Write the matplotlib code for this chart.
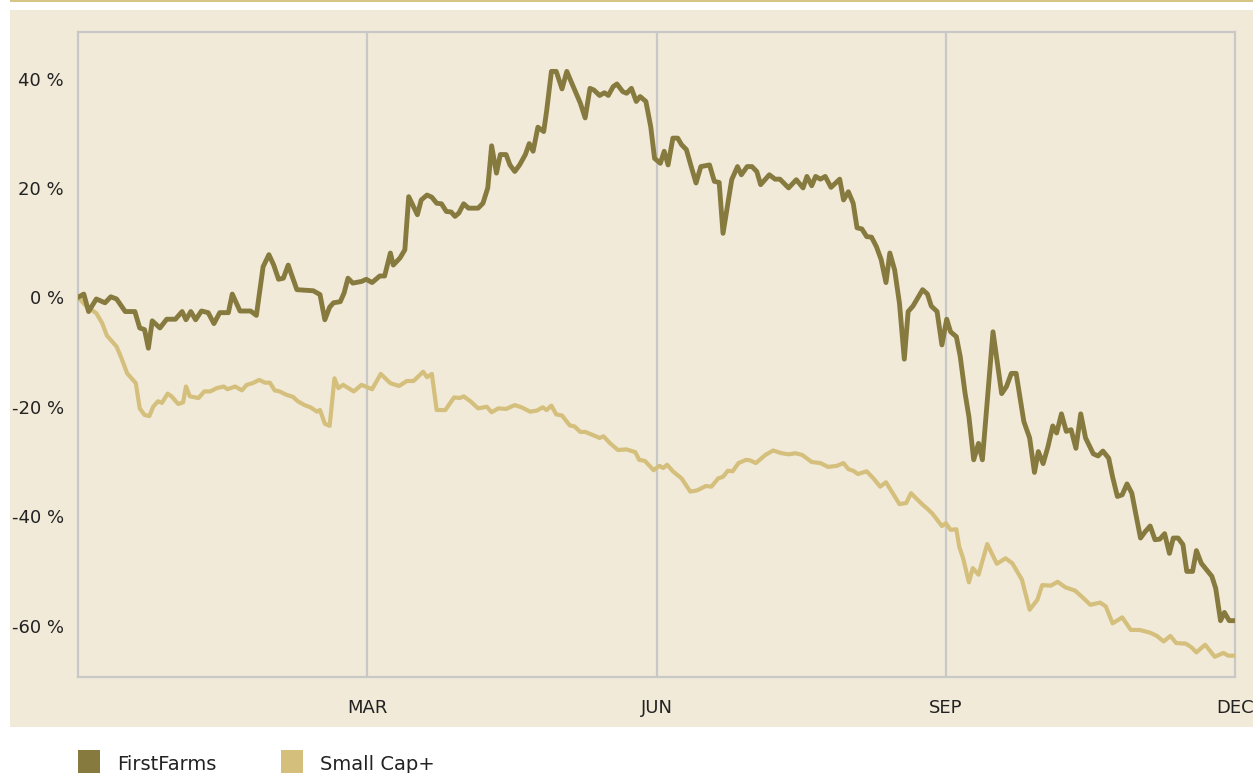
import matplotlib
matplotlib.use("Agg")
import matplotlib.pyplot as plt
from matplotlib.patches import Rectangle

# --- data: months since start of year (0 = Dec prev year), return in %
ff_month = [0.00, 0.06, 0.11, 0.19, 0.28, 0.34, 0.40, 0.49, 0.59, 0.64, 0.69, 0.73, 0.77, 0.85, 0.92,
            1.01, 1.08, 1.12, 1.17, 1.22, 1.28, 1.35, 1.41, 1.47, 1.56, 1.60, 1.68, 1.79, 1.85, 1.92,
            1.98, 2.03, 2.08, 2.13, 2.18, 2.27, 2.44, 2.51, 2.56, 2.61, 2.65, 2.72, 2.76, 2.80, 2.85,
            2.94, 2.99, 3.05, 3.13, 3.18, 3.24, 3.27, 3.34, 3.39, 3.43, 3.52, 3.56, 3.62, 3.67, 3.72,
            3.77, 3.82, 3.87, 3.91, 3.95, 4.00, 4.05, 4.15, 4.20, 4.25, 4.29, 4.34, 4.38, 4.44, 4.48,
            4.53, 4.58, 4.64, 4.68, 4.72, 4.77, 4.83, 4.86, 4.91, 4.96, 5.02, 5.07, 5.12, 5.21, 5.26,
            5.31, 5.35, 5.41, 5.46, 5.50, 5.55, 5.59, 5.65, 5.69, 5.74, 5.79, 5.83, 5.89, 5.94, 5.98,
            6.04, 6.08, 6.12, 6.17, 6.22, 6.26, 6.31, 6.36, 6.41, 6.46, 6.55, 6.60, 6.65, 6.69, 6.78,
            6.84, 6.88, 6.94, 6.99, 7.04, 7.08, 7.17, 7.23, 7.28, 7.37, 7.45, 7.52, 7.56, 7.61, 7.65,
            7.70, 7.75, 7.81, 7.90, 7.94, 7.99, 8.04, 8.08, 8.13, 8.18, 8.23, 8.28, 8.33, 8.38, 8.42,
            8.47, 8.52, 8.57, 8.61, 8.66, 8.76, 8.81, 8.85, 8.91, 8.96, 9.01, 9.05, 9.11, 9.15, 9.20,
            9.24, 9.29, 9.34, 9.38, 9.42, 9.49, 9.58, 9.63, 9.68, 9.73, 9.81, 9.87, 9.92, 9.96, 10.01,
            10.06, 10.11, 10.15, 10.20, 10.25, 10.30, 10.35, 10.40, 10.45, 10.53, 10.58, 10.63, 10.69,
            10.73, 10.78, 10.83, 10.88, 10.93, 10.97, 11.02, 11.07, 11.12, 11.17, 11.22, 11.27, 11.32,
            11.36, 11.41, 11.46, 11.50, 11.56, 11.60, 11.65, 11.71, 11.76, 11.80, 11.85, 11.89, 11.94,
            11.99]
ff_pct = [0.0, 0.6, -2.6, -0.3, -1.0, 0.1, -0.3, -2.6, -2.6, -5.6, -5.9, -9.3, -4.3, -5.6, -4.0,
          -4.0, -2.6, -4.1, -2.6, -4.1, -2.5, -2.8, -4.8, -2.8, -2.8, 0.6, -2.5, -2.5, -3.3, 5.6,
          7.8, 5.9, 3.3, 3.5, 5.9, 1.4, 1.2, 0.5, -4.1, -1.8, -1.0, -0.8, 0.8, 3.5, 2.6,
          2.9, 3.3, 2.7, 3.9, 3.9, 8.1, 5.9, 7.2, 8.7, 18.4, 15.1, 17.8, 18.7, 18.3, 17.2,
          17.1, 15.7, 15.6, 14.8, 15.4, 17.1, 16.3, 16.3, 17.2, 20.0, 27.7, 22.7, 26.1, 26.1, 24.2,
          23.0, 24.2, 26.1, 28.1, 26.7, 31.1, 30.3, 34.0, 41.3, 41.3, 38.1, 41.3, 39.2, 35.5, 32.8,
          38.2, 37.9, 36.9, 37.4, 36.9, 38.5, 39.0, 37.6, 37.3, 38.2, 35.8, 36.7, 35.8, 31.2, 25.4,
          24.5, 26.7, 24.2, 29.1, 29.1, 27.9, 27.0, 23.9, 20.9, 23.9, 24.2, 21.2, 21.0, 11.7, 21.5,
          23.9, 22.4, 23.9, 23.9, 23.0, 20.6, 22.4, 21.6, 21.6, 20.0, 21.5, 20.0, 22.1, 20.4, 22.1,
          21.6, 22.1, 20.1, 21.6, 17.8, 19.3, 17.2, 12.7, 12.5, 11.1, 11.0, 9.3, 6.9, 2.7, 8.1,
          5.0, -1.1, -11.3, -2.6, -1.6, 1.4, 0.6, -1.6, -2.6, -8.7, -4.0, -6.3, -7.2, -10.8, -17.5,
          -21.8, -29.7, -26.7, -29.7, -21.2, -6.3, -17.6, -16.3, -13.9, -13.9, -22.7, -25.7, -32.0, -28.2, -30.4,
          -27.3, -23.5, -24.8, -21.3, -24.5, -24.2, -27.6, -21.3, -25.7, -28.6, -29.0, -28.1, -29.4,
          -32.8, -36.4, -36.1, -34.1, -35.8, -39.5, -44.0, -42.8, -41.8, -44.3, -44.2, -43.2, -46.8,
          -44.0, -44.0, -45.2, -50.1, -50.1, -46.3, -48.6, -49.9, -51.0, -53.2, -59.1, -57.6, -59.1,
          -59.1]

sc_month = [0.00, 0.09, 0.19, 0.25, 0.30, 0.40, 0.45, 0.51, 0.60, 0.64, 0.69, 0.74, 0.78, 0.83, 0.87,
            0.93, 0.97, 1.04, 1.09, 1.12, 1.16, 1.25, 1.31, 1.37, 1.44, 1.51, 1.55, 1.63, 1.70, 1.75,
            1.81, 1.88, 1.94, 1.99, 2.04, 2.09, 2.16, 2.23, 2.28, 2.35, 2.41, 2.48, 2.51, 2.56, 2.61,
            2.66, 2.70, 2.75, 2.86, 2.94, 3.05, 3.14, 3.24, 3.33, 3.41, 3.48, 3.58, 3.62, 3.67, 3.72,
            3.81, 3.90, 3.96, 4.00, 4.07, 4.15, 4.24, 4.29, 4.36, 4.44, 4.53, 4.60, 4.69, 4.76, 4.82,
            4.86, 4.91, 4.96, 5.02, 5.10, 5.15, 5.21, 5.26, 5.33, 5.41, 5.45, 5.52, 5.60, 5.69, 5.78,
            5.82, 5.88, 5.97, 6.03, 6.07, 6.11, 6.17, 6.26, 6.35, 6.42, 6.51, 6.57, 6.64, 6.69, 6.74,
            6.79, 6.85, 6.93, 6.97, 7.03, 7.13, 7.21, 7.30, 7.37, 7.44, 7.51, 7.61, 7.70, 7.78, 7.87,
            7.94, 7.99, 8.04, 8.09, 8.18, 8.25, 8.32, 8.38, 8.46, 8.52, 8.59, 8.64, 8.69, 8.76, 8.80,
            8.86, 8.96, 9.00, 9.05, 9.11, 9.14, 9.18, 9.24, 9.28, 9.34, 9.43, 9.53, 9.62, 9.69, 9.79,
            9.87, 9.95, 10.00, 10.09, 10.16, 10.24, 10.34, 10.41, 10.50, 10.60, 10.66, 10.73, 10.83,
            10.92, 11.01, 11.12, 11.19, 11.26, 11.33, 11.39, 11.49, 11.55, 11.60, 11.69, 11.79, 11.88,
            11.93, 11.99]
sc_pct = [0.0, -1.7, -2.9, -4.7, -7.0, -9.0, -11.1, -13.9, -15.7, -20.3, -21.5, -21.7, -20.0, -19.0, -19.3,
          -17.6, -18.1, -19.5, -19.2, -16.3, -18.1, -18.4, -17.2, -17.2, -16.6, -16.3, -16.8, -16.3, -17.0, -16.0,
          -15.7, -15.1, -15.6, -15.6, -17.0, -17.2, -17.8, -18.2, -19.0, -19.7, -20.1, -20.9, -20.6, -23.1, -23.5,
          -14.8, -16.6, -16.0, -17.2, -16.0, -16.8, -14.0, -15.7, -16.2, -15.3, -15.3, -13.6, -14.6, -14.0, -20.6,
          -20.6, -18.3, -18.4, -18.1, -19.0, -20.3, -20.0, -21.0, -20.3, -20.4, -19.7, -20.1, -20.9, -20.7, -20.1,
          -20.6, -19.8, -21.4, -21.6, -23.4, -23.6, -24.6, -24.6, -25.1, -25.7, -25.4, -26.7, -27.9, -27.8, -28.3,
          -29.7, -29.9, -31.6, -30.8, -31.2, -30.6, -31.8, -33.1, -35.5, -35.3, -34.5, -34.6, -33.1, -32.8, -31.7,
          -31.8, -30.3, -29.7, -29.8, -30.3, -28.8, -28.0, -28.5, -28.7, -28.5, -28.8, -30.1, -30.3, -31.0, -30.8,
          -30.3, -31.4, -31.7, -32.3, -31.8, -33.1, -34.6, -33.8, -36.1, -37.8, -37.6, -35.8, -36.7, -37.9, -38.5,
          -39.5, -41.8, -41.3, -42.5, -42.4, -45.6, -47.7, -52.1, -49.5, -50.7, -45.1, -48.7, -47.7, -48.6, -51.6,
          -57.1, -55.3, -52.6, -52.7, -52.0, -53.0, -53.6, -54.7, -56.2, -55.8, -56.5, -59.6, -58.5,
          -60.8, -60.8, -61.3, -61.9, -62.9, -61.9, -63.2, -63.3, -64.0, -64.9, -63.5, -65.7, -65.0,
          -65.5, -65.5]

x_ticks = [3, 6, 9, 12]
x_labels = ["MAR", "JUN", "SEP", "DEC"]
y_ticks = [-60, -40, -20, 0, 20, 40]
y_labels = ["-60 %", "-40 %", "-20 %", "0 %", "20 %", "40 %"]
series_names = ["FirstFarms", "Small Cap+"]

DARK = "#877a3f"; LIGHT = "#d4bf7c"; BEIGE = "#f1ead8"; GRID = "#c8c8c8"; TXT = "#222222"
plt.rcParams["font.family"] = ["DejaVu Sans"]

W, H = 1253, 773
fig = plt.figure(figsize=(W / 100, H / 100), dpi=100, facecolor="white")
# beige panel + thin gold rule on top
fig.add_artist(Rectangle((10 / W, (H - 727) / H), 1 - 10 / W, 717 / H, transform=fig.transFigure,
                         fc=BEIGE, ec="none", zorder=0))
fig.add_artist(Rectangle((10 / W, 1 - 2 / H), 1 - 10 / W, 2 / H, transform=fig.transFigure,
                         fc="#d8c486", ec="none", zorder=0))

ax = fig.add_axes([78 / W, (H - 677) / H, 1157 / W, 645 / H])
ax.set_facecolor(BEIGE)
ax.plot(sc_month, sc_pct, color=LIGHT, lw=3.0, solid_joinstyle="round", zorder=3)
ax.plot(ff_month, ff_pct, color=DARK, lw=3.5, solid_joinstyle="round", zorder=4)
ax.set_xlim(0, 12)
ax.set_ylim(-69.4, 48.5)
for xv in x_ticks[:-1]:
    ax.axvline(xv, color=GRID, lw=1.6, zorder=1)
for s in ax.spines.values():
    s.set_color(GRID); s.set_linewidth(1.6)
ax.set_xticks(x_ticks, x_labels)
ax.set_yticks(y_ticks, y_labels)
ax.tick_params(length=0, labelsize=13, labelcolor=TXT)
ax.tick_params(axis="x", pad=16)
ax.tick_params(axis="y", pad=10)
for lab in ax.get_xticklabels():
    lab.set_x(lab.get_position()[0])
    lab.set_horizontalalignment("center")

# legend at the bottom (partly cut by the figure edge, as in the original)
for xp, name, col in [(78, series_names[0], DARK), (281, series_names[1], LIGHT)]:
    fig.add_artist(Rectangle((xp / W, 0), 22 / W, 23 / H, transform=fig.transFigure,
                             fc=col, ec="none"))
    fig.text((xp + 39) / W, -1 / H, name, fontsize=14, color=TXT, ha="left", va="bottom")

fig.savefig("out.png", dpi=100, facecolor="white")
